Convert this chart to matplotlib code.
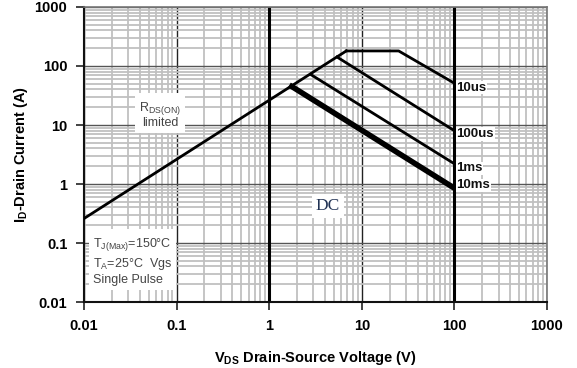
import numpy as np
import matplotlib
matplotlib.use('Agg')
from matplotlib import pyplot as plt
from matplotlib.ticker import LogLocator, NullFormatter

plt.rcParams['font.family'] = ['Liberation Sans', 'DejaVu Sans']
plt.rcParams['mathtext.fontset'] = 'custom'
plt.rcParams['mathtext.rm'] = 'Liberation Sans'
plt.rcParams['mathtext.bf'] = 'Liberation Sans:bold'

# safe operating area curves (V in volts, I in amps)
rds_v = [0.01, 6.8]
rds_i = [0.26, 180]
us10_v = [6.8, 25, 100]
us10_i = [180, 180, 51]
us100_v = [5.4, 100]
us100_i = [142, 8.0]
ms1_v = [2.8, 100]
ms1_i = [72, 2.2]
ms10_v = [1.75, 100]
ms10_i = [45, 0.85]

curve_labels = ['10us', '100us', '1ms', '10ms']
label_i = [43, 7.0, 1.85, 0.95]

x_ticks = [0.01, 0.1, 1, 10, 100, 1000]
x_ticklabels = ['0.01', '0.1', '1', '10', '100', '1000']
y_ticks = [0.01, 0.1, 1, 10, 100, 1000]
y_ticklabels = ['0.01', '0.1', '1', '10', '100', '1000']

fig = plt.figure(figsize=(5.77, 3.68), dpi=100)
ax = fig.add_axes([0.1456, 0.1793, 0.8024, 0.8017])
ax.set_xscale('log')
ax.set_yscale('log')
ax.set_xlim(0.01, 1000)
ax.set_ylim(0.01, 1000)

ax.xaxis.set_minor_locator(LogLocator(base=10, subs=np.arange(2, 10)))
ax.yaxis.set_minor_locator(LogLocator(base=10, subs=np.arange(2, 10)))
ax.xaxis.set_minor_formatter(NullFormatter())
ax.yaxis.set_minor_formatter(NullFormatter())
ax.grid(which='minor', color='#c0c0c0', lw=1.3)
ax.grid(which='major', axis='x', color='#222222', lw=1.0)
ax.grid(which='major', axis='y', color='#555555', lw=1.0)
ax.set_axisbelow(True)

ax.set_xticks(x_ticks)
ax.set_xticklabels(x_ticklabels, fontweight='bold', fontsize=10.5)
ax.set_yticks(y_ticks)
ax.set_yticklabels(y_ticklabels, fontweight='bold', fontsize=10.5)
ax.tick_params(which='major', length=6, width=1.2, color='#222222', pad=6)
ax.tick_params(which='minor', length=0)

for s in ['left', 'bottom']:
    ax.spines[s].set_color('#111111')
    ax.spines[s].set_linewidth(1.5)
for s in ['top', 'right']:
    ax.spines[s].set_color('#777777')
    ax.spines[s].set_linewidth(1.2)

# thick verticals at 1 V and 100 V
ax.axvline(1, color='black', lw=2.2, zorder=2)
ax.axvline(100, color='black', lw=2.2, zorder=2)

ax.plot(rds_v, rds_i, color='black', lw=2, zorder=3)
ax.plot(us10_v, us10_i, color='black', lw=2, zorder=3)
ax.plot(us100_v, us100_i, color='black', lw=2, zorder=3)
ax.plot(ms1_v, ms1_i, color='black', lw=2, zorder=3)
ax.plot(ms10_v, ms10_i, color='black', lw=4, zorder=3)

for lab, yi in zip(curve_labels, label_i):
    ax.text(105, yi, lab, fontsize=9.5, fontweight='bold', va='center', ha='left',
            color='#111111', bbox=dict(facecolor='white', edgecolor='none', pad=0.5), zorder=4)

box = dict(facecolor='white', edgecolor='none', pad=3)
ax.text(0.066, 15, r'R$_{\mathregular{DS(ON)}}$' + '\nlimited', fontsize=9,
        color='#444444', ha='center', va='center', linespacing=1.0, bbox=box, zorder=4)
ax.text(4.3, 0.42, 'DC', fontsize=12.5, family='Liberation Serif', color='#223355',
        ha='center', va='center', bbox=box, zorder=4)
ax.text(0.0125, 0.05,
        r'T$_{\mathregular{J(Max)}}$=150°C' + '\n' + r'T$_{\mathregular{A}}$=25°C  Vgs' + '\nSingle Pulse',
        fontsize=9, color='#444444', ha='left', va='center', linespacing=1.25,
        bbox=dict(facecolor='white', edgecolor='none', pad=3), zorder=4)

ax.set_xlabel(r'V$_{\mathbf{DS}}$ Drain-Source Voltage (V)', fontweight='bold', fontsize=10.5, labelpad=12)
ax.set_ylabel(r'I$_{\mathbf{D}}$-Drain Current (A)', fontweight='bold', fontsize=10.5, labelpad=3)

fig.savefig('out.png', dpi=100)
